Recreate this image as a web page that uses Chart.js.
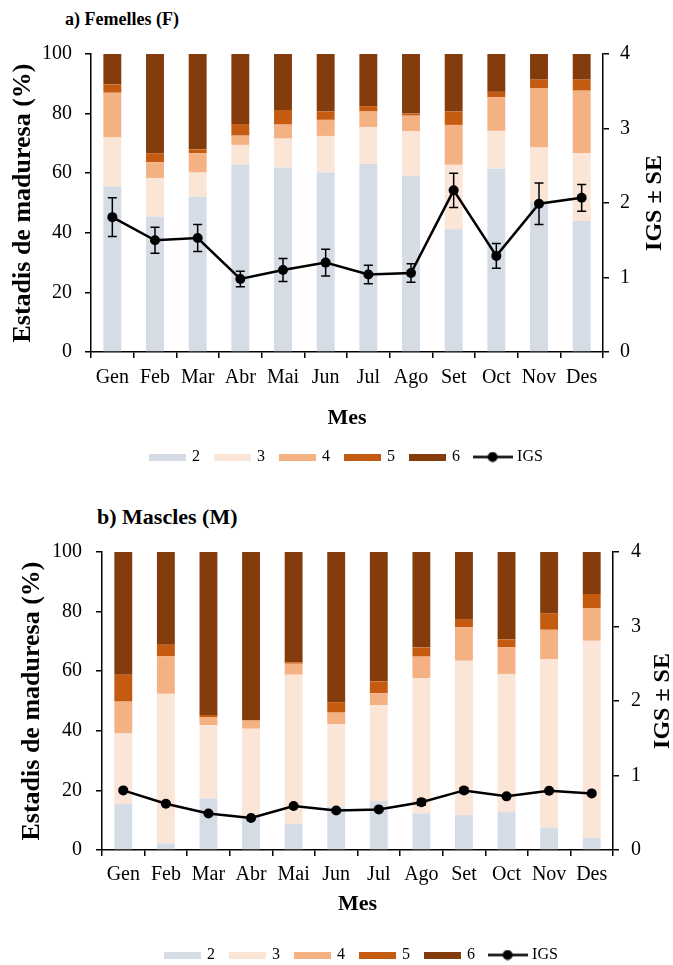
<!DOCTYPE html>
<html>
<head>
<meta charset="utf-8">
<script src="https://cdn.jsdelivr.net/npm/chart.js@4.4.1/dist/chart.umd.min.js"></script>
<style>
  html, body { margin: 0; padding: 0; background: #fff; }
  body { width: 673px; height: 965px; overflow: hidden; position: relative; }
  .wrap { position: absolute; left: 0; width: 673px; }
  .ttl { position: absolute; font-family: 'Liberation Serif', 'Times New Roman', serif; font-weight: bold; line-height: 1; white-space: nowrap; color: #000; }
</style>
</head>
<body>
<div class="ttl" id="t1" style="left:65px; top:10px; font-size:18px;">a) Femelles (F)</div>
<div class="ttl" id="t2" style="left:97px; top:506px; font-size:22px;">b) Mascles (M)</div>
<div class="wrap" style="top:0px; height:480px;"><canvas id="c1" width="673" height="480" style="width:673px;height:480px"></canvas></div>
<div class="wrap" style="top:490px; height:475px;"><canvas id="c2" width="673" height="475" style="width:673px;height:475px"></canvas></div>
<script>
// ---------------- DATA ----------------
const months = ['Gen','Feb','Mar','Abr','Mai','Jun','Jul','Ago','Set','Oct','Nov','Des'];
const stageLabels = ['2','3','4','5','6'];
const yTicksLeft = [0,20,40,60,80,100];
const yTicksRight = [0,1,2,3,4];

// a) Femelles (F) - % per maturity stage
const femS2 = [55.5,45.5,52.1,62.8,61.9,60.2,63.1,59.1,41.2,61.5,50.5,44.0];
const femS3 = [16.5,12.9, 8.1, 6.7, 9.7,12.3,12.4,15.0,21.6,12.7,18.1,22.7];
const femS4 = [15.0, 5.3, 6.5, 3.1, 4.7, 5.4, 5.2, 5.2,13.4,11.3,20.0,21.0];
const femS5 = [ 2.8, 3.0, 1.3, 3.9, 4.9, 2.8, 1.8, 0.7, 4.5, 1.8, 2.8, 3.7];
const femS6 = [10.2,33.3,32.0,23.5,18.8,19.3,17.5,20.0,19.3,12.7, 8.6, 8.6];
const femIGS = [1.81,1.50,1.53,0.98,1.10,1.20,1.04,1.06,2.17,1.29,1.99,2.07];
const femSE  = [0.26,0.175,0.18,0.105,0.155,0.18,0.125,0.125,0.23,0.165,0.28,0.18];

// b) Mascles (M)
const malS2 = [15.4, 2.2,17.3,11.0, 8.7,14.5,16.4,12.3,11.7,12.7, 7.5, 4.1];
const malS3 = [23.7,50.2,24.6,29.7,50.1,27.7,32.2,45.4,51.8,46.4,56.5,66.1];
const malS4 = [10.7,12.6, 2.6, 2.7, 3.7, 3.9, 4.0, 7.2,11.2, 8.9, 9.9,11.0];
const malS5 = [ 9.0, 3.9, 0.8, 0.2, 0.5, 3.5, 4.0, 3.1, 2.8, 2.7, 5.5, 4.7];
const malS6 = [41.2,31.1,54.7,56.4,37.0,50.4,43.4,32.0,22.5,29.3,20.6,14.1];
const malIGS = [0.80,0.62,0.49,0.43,0.59,0.53,0.545,0.64,0.80,0.72,0.795,0.76];
const malSE  = [0.015,0.015,0.015,0.015,0.015,0.015,0.015,0.04,0.035,0.015,0.015,0.015];

// ---------------- STYLE ----------------
const FONT = "'Liberation Serif', 'Times New Roman', serif";
const stageColors = ['#D6DCE5','#FBE5D6','#F4B183','#C55A11','#843C0C'];

function boxImg(color) {
  const c = document.createElement('canvas');
  c.width = 37; c.height = 7;
  const g = c.getContext('2d');
  g.fillStyle = color; g.fillRect(0, 0, 37, 7);
  return c;
}
function lineImg() {
  const c = document.createElement('canvas');
  c.width = 40; c.height = 11;
  const g = c.getContext('2d');
  g.strokeStyle = '#000'; g.lineWidth = 2.5;
  g.beginPath(); g.moveTo(0, 5.5); g.lineTo(40, 5.5); g.stroke();
  g.fillStyle = '#000'; g.beginPath(); g.arc(20, 5.5, 5, 0, Math.PI * 2); g.fill();
  return c;
}
const legendImgs = stageColors.map(boxImg).concat([lineImg()]);

const errorBars = {
  id: 'errorBars',
  afterDatasetsDraw(chart) {
    const ctx = chart.ctx;
    const y1 = chart.scales.y1;
    chart.data.datasets.forEach((ds, di) => {
      if (!ds.errors) return;
      const meta = chart.getDatasetMeta(di);
      ctx.save();
      ctx.strokeStyle = '#000';
      ctx.lineWidth = 1.5;
      meta.data.forEach((pt, i) => {
        const v = ds.data[i], e = ds.errors[i];
        const yt = y1.getPixelForValue(v + e), yb = y1.getPixelForValue(v - e);
        ctx.beginPath();
        ctx.moveTo(pt.x, yt); ctx.lineTo(pt.x, yb);
        ctx.moveTo(pt.x - 4.5, yt); ctx.lineTo(pt.x + 4.5, yt);
        ctx.moveTo(pt.x - 4.5, yb); ctx.lineTo(pt.x + 4.5, yb);
        ctx.stroke();
      });
      ctx.restore();
    });
  }
};

const legendPos = {
  id: 'legendPos',
  afterLayout(chart, args, opts) {
    const lg = chart.legend;
    if (!lg || opts.cx == null) return;
    const dx = opts.cx - (lg.left + lg.right) / 2;
    lg.left += dx; lg.right += dx;
    const pad = lg.options.labels.padding;
    const dy = opts.cy - (lg.top + pad + 8);
    lg.top += dy; lg.bottom += dy;
  }
};

const rightTitle = {
  id: 'rightTitle',
  afterDraw(chart, args, opts) {
    const s = chart.scales.y1;
    const ctx = chart.ctx;
    ctx.save();
    ctx.font = 'bold ' + opts.size + 'px ' + FONT;
    ctx.fillStyle = '#000';
    ctx.translate(opts.x, (s.top + s.bottom) / 2);
    ctx.rotate(-Math.PI / 2);
    ctx.textAlign = 'center';
    ctx.textBaseline = 'middle';
    ctx.fillText(opts.text, 0, 0);
    ctx.restore();
  }
};

function build(id, stages, igs, se, L) {
  const datasets = stages.map((arr, k) => ({
    type: 'bar', label: stageLabels[k], data: arr,
    backgroundColor: stageColors[k], borderWidth: 0,
    yAxisID: 'y', order: 2,
    categoryPercentage: 1, barPercentage: 0.42
  }));
  datasets.push({
    type: 'line', label: 'IGS', data: igs, errors: se,
    yAxisID: 'y1', order: 1,
    borderColor: '#000', borderWidth: 2.5,
    pointRadius: 5, pointBackgroundColor: '#000', pointBorderColor: '#000',
    pointBorderWidth: 0, tension: 0, fill: false
  });
  const axisCommon = {
    grid: { display: true, drawOnChartArea: false, drawTicks: true, tickLength: 6, color: '#000', lineWidth: 1.5 },
    border: { display: true, color: '#000', width: 1.5 }
  };
  return new Chart(document.getElementById(id), {
    data: { labels: months, datasets },
    options: {
      responsive: false, animation: false,
      layout: { padding: { top: L.padTop, bottom: 0, left: 0, right: 0 } },
      scales: {
        x: Object.assign({}, axisCommon, {
          stacked: true,
          grid: Object.assign({}, axisCommon.grid, { offset: true }),
          ticks: { color: '#000', font: { family: FONT, size: 20 }, padding: L.xPad, maxRotation: 0, autoSkip: false },
          title: { display: true, text: 'Mes', color: '#000', font: { family: FONT, size: 22, weight: 'bold' }, padding: { top: 0, bottom: L.mesPad } },
          afterFit: s => { s.height = L.xH; }
        }),
        y: Object.assign({}, axisCommon, {
          stacked: true, position: 'left', min: 0, max: 100,
          afterBuildTicks: s => { s.ticks = yTicksLeft.map(v => ({ value: v })); },
          ticks: { color: '#000', font: { family: FONT, size: 20 }, padding: L.yPad },
          title: { display: true, text: 'Estadis de maduresa (%)', color: '#000', font: { family: FONT, size: L.yTitleSize, weight: 'bold' }, padding: { top: L.yTitlePad, bottom: 0 } },
          afterFit: s => { s.width = L.leftW; }
        }),
        y1: Object.assign({}, axisCommon, {
          position: 'right', min: 0, max: 4,
          afterBuildTicks: s => { s.ticks = yTicksRight.map(v => ({ value: v })); },
          ticks: { color: '#000', font: { family: FONT, size: 20 }, padding: L.y1Pad },
          afterFit: s => { s.width = L.rightW; }
        })
      },
      plugins: {
        tooltip: { enabled: false },
        legend: {
          position: 'bottom',
          labels: {
            usePointStyle: true, pointStyleWidth: 33, boxHeight: 16, padding: 16,
            color: '#000', font: { family: FONT, size: 16 },
            generateLabels: chart => chart.data.datasets.map((ds, i) => ({
              text: ds.label, pointStyle: legendImgs[i], fillStyle: '#000',
              strokeStyle: 'rgba(0,0,0,0)', lineWidth: 0, hidden: false,
              datasetIndex: i, fontColor: '#000'
            }))
          }
        },
        legendPos: { cx: L.legCx, cy: L.legCy },
        rightTitle: { text: 'IGS ± SE', size: 24, x: L.rTitleX }
      }
    },
    plugins: [errorBars, legendPos, rightTitle]
  });
}

build('c1', [femS2, femS3, femS4, femS5, femS6], femIGS, femSE, {
  padTop: 54, xH: 86, xPad: 8, mesPad: 6, yPad: 13, y1Pad: 11,
  leftW: 91, rightW: 70, yTitleSize: 26, yTitlePad: 8,
  legCx: 347, legCy: 457, rTitleX: 655
});
build('c2', [malS2, malS3, malS4, malS5, malS6], malIGS, malSE, {
  padTop: 62, xH: 73, xPad: 7, mesPad: 5, yPad: 14, y1Pad: 12,
  leftW: 102, rightW: 60, yTitleSize: 26, yTitlePad: 17,
  legCx: 362, legCy: 465, rTitleX: 663
});
</script>
</body>
</html>
